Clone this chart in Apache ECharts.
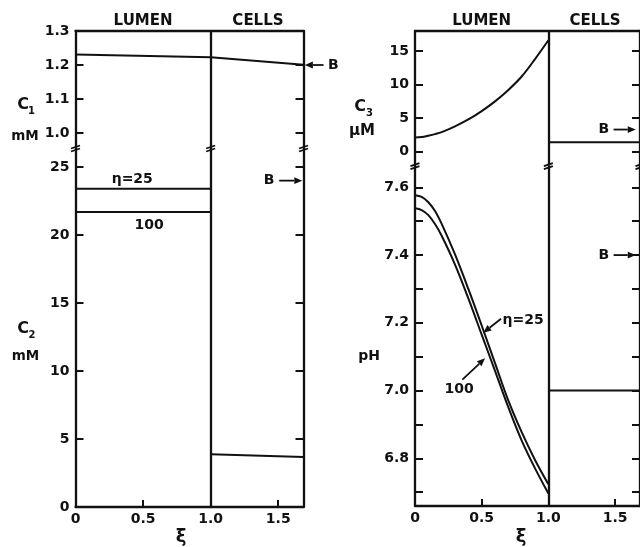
<!DOCTYPE html>
<html><head><meta charset="utf-8">
<script src="https://cdn.jsdelivr.net/npm/echarts@6/dist/echarts.min.js"></script>
<style>html,body{margin:0;padding:0;background:#fff}#c{width:640px;height:547px}</style>
</head><body><div id="c"></div>
<script>
// ---- data ----
const xiLumen = [0, 0.05, 0.1, 0.15, 0.2, 0.3, 0.4, 0.5, 0.6, 0.7, 0.8, 0.9, 1.0];
const c3Lumen = [2.1, 2.18, 2.38, 2.62, 2.92, 3.78, 4.8, 6.05, 7.5, 9.2, 11.2, 13.8, 16.6];
const pHLumen25 = [7.577, 7.572, 7.556, 7.530, 7.492, 7.402, 7.300, 7.192, 7.081, 6.970, 6.877, 6.795, 6.723];
const pHLumen100 = [7.538, 7.533, 7.518, 7.492, 7.457, 7.372, 7.272, 7.165, 7.058, 6.950, 6.852, 6.770, 6.696];
const c1Xi = [0, 1.0, 1.687];
const c1Vals = [1.231, 1.223, 1.201];
const lumenEnds = [0, 1.0];
const c2Lumen25 = [23.4, 23.4];
const c2Lumen100 = [21.7, 21.7];
const cellsXi = [1.0, 1.687];
const c2Cells = [3.87, 3.68];
const c3Cells = [1.4, 1.4];
const pHCells = [7.0, 7.0];
const xTickLabels = [0, 0.5, 1.0, 1.5];
const c1Ticks = [1.0, 1.1, 1.2, 1.3];
const c2Ticks = [0, 5, 10, 15, 20, 25];
const c3Ticks = [0, 5, 10, 15];
const pHLabels = [6.8, 7.0, 7.2, 7.4, 7.6];
const pHTicks = [6.7, 6.8, 6.9, 7.0, 7.1, 7.2, 7.3, 7.4, 7.5, 7.6];
const bLevels = {c1: 1.2, c2: 24.0, c3: 3.3, pH: 7.4};

const XMAX = 1.687;
const FONT = 'DejaVu Sans';
const INK = '#111';
const AXW = 2.3;

function pairs(xs, ys){ return xs.map((x,i)=>[x, ys[i]]); }

const chart = echarts.init(document.getElementById('c'), null, {renderer:'canvas'});

function xAxisTop(grid){
  return {type:'value', gridIndex:grid, position:'top', min:0, max:XMAX,
    axisLine:{show:true, onZero:false, lineStyle:{color:INK, width:AXW}},
    axisTick:{show:false}, axisLabel:{show:false}, splitLine:{show:false}};
}
function xAxisBottom(grid){
  return {type:'value', gridIndex:grid, position:'bottom', min:0, max:XMAX,
    axisLine:{show:true, onZero:false, lineStyle:{color:INK, width:AXW}},
    axisTick:{show:true, inside:true, length:7, lineStyle:{color:INK, width:2}, customValues:[0.5, 1.5]},
    axisLabel:{show:true, customValues:xTickLabels, margin:5, color:INK, fontFamily:FONT, fontSize:14, fontWeight:'bold',
      formatter:v => v === 0 ? '0' : v.toFixed(1)},
    splitLine:{show:false}};
}
function yAxis(grid, pos, min, max, ticks, labels, digits){
  return {type:'value', gridIndex:grid, position:pos, min:min, max:max,
    axisLine:{show:true, onZero:false, lineStyle:{color:INK, width:AXW}},
    axisTick:{show:true, inside:true, length:8, lineStyle:{color:INK, width:2}, customValues:ticks},
    axisLabel:{show:!!labels, customValues:labels || ticks, margin:6, color:INK, fontFamily:FONT, fontSize:14, fontWeight:'bold',
      formatter:v => v.toFixed(digits)},
    splitLine:{show:false}};
}
const divider = {silent:true, symbol:['none','none'], label:{show:false},
  lineStyle:{color:INK, width:AXW, type:'solid'}, data:[{xAxis:1}]};
function lineSeries(xi, yi, data, extra){
  return Object.assign({type:'line', xAxisIndex:xi, yAxisIndex:yi, data:data, showSymbol:false,
    symbol:'none', silent:true, clip:false, lineStyle:{color:INK, width:2}, z:3}, extra||{});
}

const option = {
  animation:false,
  backgroundColor:'#fff',
  grid:[
    {left:75.5, top:31, width:228, height:117},
    {left:75.5, top:148, width:228, height:359},
    {left:415, top:31, width:230, height:134.7},
    {left:415, top:165.7, width:230, height:340.3}
  ],
  xAxis:[xAxisTop(0), xAxisBottom(1), xAxisTop(2), xAxisBottom(3)],
  yAxis:[
    yAxis(0,'left',0.956,1.3,c1Ticks,c1Ticks,1),
    yAxis(0,'right',0.956,1.3,[1.0,1.1,1.2],null,1),
    yAxis(1,'left',0,26.4,c2Ticks,c2Ticks,0),
    yAxis(1,'right',0,26.4,c2Ticks,null,0),
    yAxis(2,'left',-2.085,17.98,c3Ticks,c3Ticks,0),
    yAxis(2,'right',-2.085,17.98,c3Ticks,null,0),
    yAxis(3,'left',6.659,7.664,pHTicks,pHLabels,1),
    yAxis(3,'right',6.659,7.664,pHTicks,null,1)
  ],
  series:[
    lineSeries(0,0,pairs(c1Xi,c1Vals),{markLine:divider}),
    lineSeries(1,2,pairs(lumenEnds,c2Lumen25),{markLine:divider}),
    lineSeries(1,2,pairs(lumenEnds,c2Lumen100)),
    lineSeries(1,2,pairs(cellsXi,c2Cells)),
    lineSeries(2,4,pairs(xiLumen,c3Lumen),{smooth:0.35, markLine:divider}),
    lineSeries(2,4,pairs(cellsXi,c3Cells)),
    lineSeries(3,6,pairs(xiLumen,pHLumen25),{smooth:0.35, markLine:divider}),
    lineSeries(3,6,pairs(xiLumen,pHLumen100),{smooth:0.35}),
    lineSeries(3,6,pairs(cellsXi,pHCells))
  ]
};
chart.setOption(option);

// ---- annotations ----
const g = [];
function txt(text, x, y, size){
  g.push({type:'text', x:x, y:y, silent:true, z:10,
    style:{text:text, fill:INK, font:'bold '+(size||14)+'px "'+FONT+'"', align:'center', verticalAlign:'middle',
      textAlign:'center', textVerticalAlign:'middle'}});
}
function seg(p, q, w){
  g.push({type:'line', silent:true, z:10, shape:{x1:p[0], y1:p[1], x2:q[0], y2:q[1]}, style:{stroke:INK, lineWidth:w||1.8}});
}
function arrow(p, q){
  const dx=q[0]-p[0], dy=q[1]-p[1], L=Math.hypot(dx,dy), ux=dx/L, uy=dy/L;
  const hl=8, hw=3.4;
  const b=[q[0]-ux*hl, q[1]-uy*hl];
  seg(p, b, 1.8);
  g.push({type:'polygon', silent:true, z:10, shape:{points:[[q[0],q[1]],[b[0]-uy*hw,b[1]+ux*hw],[b[0]+uy*hw,b[1]-ux*hw]]}, style:{fill:INK}});
}
const P = (si, x, y) => chart.convertToPixel({seriesIndex:si}, [x, y]);

// break marks
function brk(si, yv){
  [0, 1, XMAX].forEach(xv => {
    const p = P(si, xv, yv);
    seg([p[0]-4.5, p[1]+0.5], [p[0]+4.5, p[1]-2.5], 1.8);
    seg([p[0]-4.5, p[1]+3.5], [p[0]+4.5, p[1]+0.5], 1.8);
  });
}
brk(0, 0.956);
brk(4, -2.085);

// headers
[[0, 0.5, 'LUMEN'], [0, 1.35, 'CELLS'], [4, 0.5, 'LUMEN'], [4, 1.35, 'CELLS']].forEach(h => {
  const p = P(h[0], h[1], h[0]===0 ? 1.3 : 17.98);
  txt(h[2], p[0], p[1]-10, 15);
});

// axis titles
txt('C', 23, 105, 16); txt('1', 31.5, 111, 10);
txt('mM', 25, 136, 13.5);
txt('C', 23, 329, 16); txt('2', 32, 335, 10);
txt('mM', 25.5, 356, 13.5);
txt('C', 360, 107, 16); txt('3', 369.5, 113, 10);
txt('μM', 362, 131, 15);
txt('pH', 369, 356, 14);
txt('ξ', 181, 537, 18);
txt('ξ', 521, 537, 18);

// curve labels
let p;
p = P(1, 0.42, 24.1); txt('η=25', p[0], p[1], 14);
p = P(1, 0.545, 20.7); txt('100', p[0], p[1], 14);
p = P(6, 0.81, 7.208); txt('η=25', p[0], p[1], 14);
arrow(P(6, 0.645, 7.212), P(6, 0.512, 7.171));
p = P(6, 0.33, 7.002); txt('100', p[0], p[1], 14);
arrow(P(6, 0.355, 7.032), P(6, 0.525, 7.095));

// B markers
p = P(0, 1.907, bLevels.c1); txt('B', p[0], p[1], 14);
arrow(P(0, 1.835, bLevels.c1), P(0, 1.697, bLevels.c1));
p = P(1, 1.433, bLevels.c2); txt('B', p[0], p[1], 14);
arrow(P(1, 1.507, bLevels.c2), P(1, 1.678, bLevels.c2));
p = P(4, 1.416, bLevels.c3); txt('B', p[0], p[1], 14);
arrow(P(4, 1.489, bLevels.c3), P(4, 1.655, bLevels.c3));
p = P(6, 1.416, bLevels.pH); txt('B', p[0], p[1], 14);
arrow(P(6, 1.489, bLevels.pH), P(6, 1.655, bLevels.pH));

chart.setOption({graphic:{elements:g}});
</script></body></html>
